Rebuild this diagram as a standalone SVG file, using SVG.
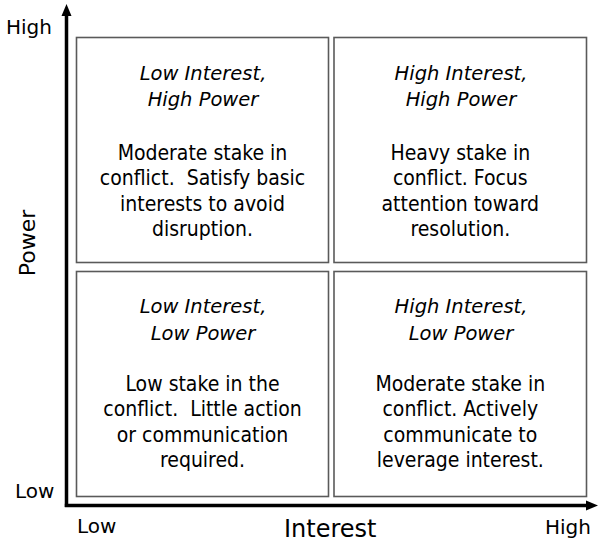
<svg xmlns="http://www.w3.org/2000/svg" width="599" height="543" viewBox="0 0 599 543">
<style>
.box{fill:#fff;stroke:#5a5a5a;stroke-width:1.6}
.hd{font-family:"DejaVu Sans",sans-serif;font-style:italic;font-size:19.5px;text-anchor:middle;fill:#000}
.bd{font-family:"DejaVu Sans Condensed","DejaVu Sans",sans-serif;font-stretch:condensed;font-size:21px;text-anchor:middle;fill:#000}
.ax{font-family:"DejaVu Sans",sans-serif;font-size:20px;fill:#000}
.axl{font-family:"DejaVu Sans",sans-serif;font-size:24px;fill:#000}
</style>
<rect width="599" height="543" fill="#fff"/>
<g id="axes">
<line x1="66.5" y1="14" x2="66.5" y2="507" stroke="#000" stroke-width="3.5"/>
<polygon points="66.5,4 61.5,16 71.5,16" fill="#000"/>
<line x1="64.8" y1="505.5" x2="588" y2="505.5" stroke="#000" stroke-width="3.5"/>
<polygon points="598,505.5 586,500.5 586,510.5" fill="#000"/>
</g>
<g id="labels">
<text class="ax" x="6" y="33.5">High</text>
<text class="ax" x="15" y="498">Low</text>
<text class="ax" x="77" y="533">Low</text>
<text class="ax" x="545" y="534">High</text>
<text class="axl" x="284" y="536.5">Interest</text>
<text class="axl" transform="translate(35,243) rotate(-90)" text-anchor="middle" style="font-size:22px">Power</text>
</g>
<g id="low-interest-high-power">
<rect class="box" x="76.5" y="37.5" width="252" height="225"/>
<text class="hd" x="203" y="80">Low Interest,</text>
<text class="hd" x="203" y="105.5">High Power</text>
<text class="bd" x="202.5" y="160">Moderate stake in</text>
<text class="bd" x="202.5" y="185">conflict.&#160; Satisfy basic</text>
<text class="bd" x="202.5" y="210.5">interests to avoid</text>
<text class="bd" x="202.5" y="236">disruption.</text>
</g>
<g id="high-interest-high-power">
<rect class="box" x="334" y="37.5" width="252.5" height="225"/>
<text class="hd" x="461" y="80">High Interest,</text>
<text class="hd" x="461" y="105.5">High Power</text>
<text class="bd" x="460.3" y="160">Heavy stake in</text>
<text class="bd" x="460.3" y="185">conflict. Focus</text>
<text class="bd" x="460.3" y="210.5">attention toward</text>
<text class="bd" x="460.3" y="236">resolution.</text>
</g>
<g id="low-interest-low-power">
<rect class="box" x="76.5" y="271.5" width="252" height="225"/>
<text class="hd" x="203" y="312.5">Low Interest,</text>
<text class="hd" x="203" y="340">Low Power</text>
<text class="bd" x="202.5" y="391">Low stake in the</text>
<text class="bd" x="202.5" y="416">conflict.&#160; Little action</text>
<text class="bd" x="202.5" y="441.5">or communication</text>
<text class="bd" x="202.5" y="467">required.</text>
</g>
<g id="high-interest-low-power">
<rect class="box" x="334" y="271.5" width="252.5" height="225"/>
<text class="hd" x="461" y="312.5">High Interest,</text>
<text class="hd" x="461" y="340">Low Power</text>
<text class="bd" x="460.3" y="391">Moderate stake in</text>
<text class="bd" x="460.3" y="416">conflict. Actively</text>
<text class="bd" x="460.3" y="441.5">communicate to</text>
<text class="bd" x="460.3" y="467">leverage interest.</text>
</g>
</svg>
